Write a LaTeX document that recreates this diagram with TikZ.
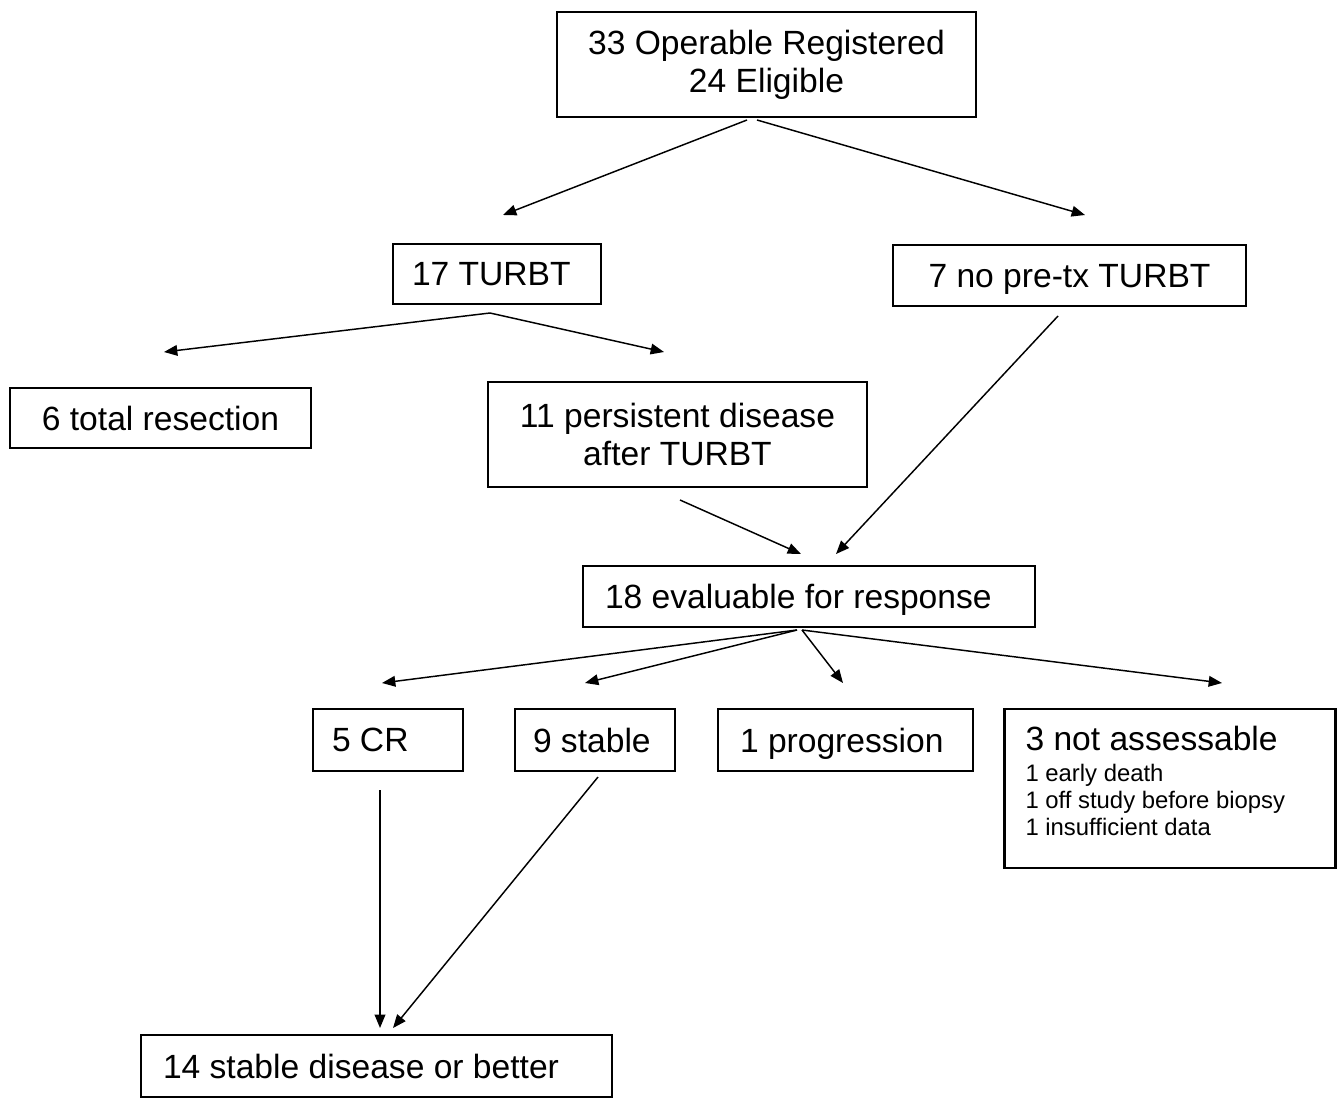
\documentclass[tikz,border=0pt]{standalone}
\usepackage{fontspec}
\setmainfont{Liberation Sans}
\usetikzlibrary{arrows.meta}
\newcommand{\bigf}{\fontsize{25.2}{28.5}\selectfont}
\newcommand{\smallf}{\fontsize{17.9}{20.3}\selectfont}
\begin{document}
\begin{tikzpicture}[x=0.75pt,y=-0.75pt,
  boxc/.style={draw, line width=1.6pt, inner sep=0pt, font=\bigf, align=center},
  boxl/.style={draw, line width=1.6pt, inner sep=0pt, font=\bigf, align=flush left},
  conn/.style={line width=1.1pt, -{Triangle[length=10pt,width=8pt]}}
]
\useasboundingbox (0,0) rectangle (1344,1098);
% boxes
\node[boxc, minimum width={419*0.75pt}, minimum height={105*0.75pt}] (top) at (766.5,64.5) {33 Operable Registered\\24 Eligible};
\node[boxl, minimum width={208*0.75pt}, minimum height={60*0.75pt}, text width={170*0.75pt}] (turbt) at (497,274) {17 TURBT};
\node[boxc, minimum width={353*0.75pt}, minimum height={61*0.75pt}, text depth=0pt] (notx) at (1069.5,275.5) {7 no pre-tx TURBT};
\node[boxc, minimum width={301*0.75pt}, minimum height={60*0.75pt}] (total) at (160.5,418) {6 total resection};
\node[boxc, minimum width={379*0.75pt}, minimum height={105*0.75pt}] (persist) at (677.5,434.5) {11 persistent disease\\after TURBT};
\node[boxl, minimum width={452*0.75pt}, minimum height={61*0.75pt}, text width={408*0.75pt}, text depth=0pt] (eval) at (809,596.5) {18 evaluable for response};
\node[boxl, minimum width={150*0.75pt}, minimum height={62*0.75pt}, text width={112*0.75pt}] (cr) at (388,740) {5 CR};
\node[boxl, minimum width={160*0.75pt}, minimum height={62*0.75pt}, text width={124*0.75pt}] (stable) at (595,740) {9 stable};
\node[boxl, minimum width={255*0.75pt}, minimum height={62*0.75pt}, text width={211*0.75pt}, text depth=0pt] (prog) at (845.5,740) {1 progression};
\node[boxl, minimum width={331*0.75pt}, minimum height={159*0.75pt}, text width={289*0.75pt}] (notass) at (1170,788.5) {3 not assessable\par\smallf\vspace{3pt}1 early death\par 1 off study before biopsy\par 1 insufficient data\rule[-12pt]{0pt}{0pt}\par};
\node[boxl, minimum width={471*0.75pt}, minimum height={62*0.75pt}, text width={427*0.75pt}] (sd) at (376.5,1066) {14 stable disease or better};
% connector end points
\coordinate (a1s) at (747,120);
\coordinate (a1e) at (503,215);
\coordinate (a2s) at (757,120);
\coordinate (a2e) at (1085,215);
\coordinate (bs) at (490,313);
\coordinate (b1e) at (164,352);
\coordinate (b2e) at (664,352);
\coordinate (c1s) at (680,500);
\coordinate (c1e) at (801,554);
\coordinate (c2s) at (1058,316);
\coordinate (c2e) at (836,554);
\coordinate (d1s) at (797,630);
\coordinate (d2s) at (802,630);
\coordinate (d1e) at (382,683);
\coordinate (d2e) at (585,683);
\coordinate (d3e) at (843,683);
\coordinate (d4e) at (1222,683);
\coordinate (e1s) at (380,790);
\coordinate (e1e) at (380,1028);
\coordinate (e2s) at (598,777);
\coordinate (e2e) at (393,1028);
% connectors
\draw[conn] (a1s) -- (a1e);
\draw[conn] (a2s) -- (a2e);
\draw[conn] (bs) -- (b1e);
\draw[conn] (bs) -- (b2e);
\draw[conn] (c1s) -- (c1e);
\draw[conn] (c2s) -- (c2e);
\draw[conn] (d1s) -- (d1e);
\draw[conn] (d1s) -- (d2e);
\draw[conn] (d2s) -- (d3e);
\draw[conn] (d2s) -- (d4e);
\draw[conn] (e1s) -- (e1e);
\draw[conn] (e2s) -- (e2e);
\end{tikzpicture}
\end{document}
